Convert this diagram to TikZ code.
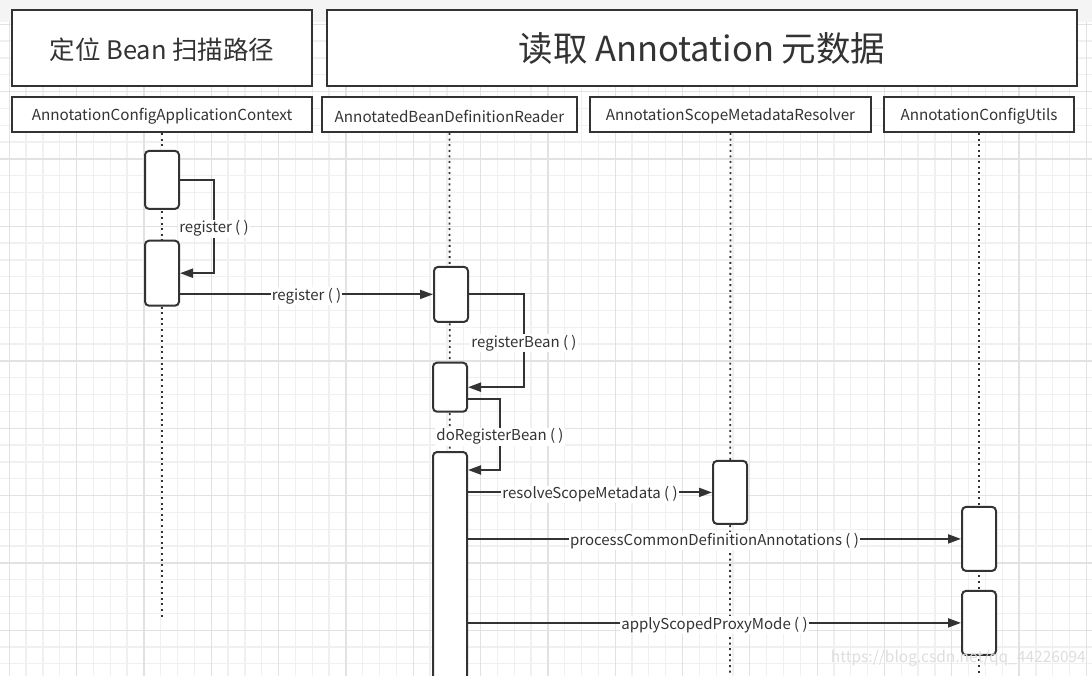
\documentclass[tikz,border=0pt]{standalone}
\usepackage{fontspec}
\setmainfont{Noto Sans CJK SC}
\usepackage{tikz}
\usetikzlibrary{arrows.meta}
\usetikzlibrary{backgrounds}

\definecolor{ink}{HTML}{333333}
\definecolor{gridminor}{HTML}{F0F0F0}
\definecolor{gridmajor}{HTML}{E2E2E2}
\definecolor{band}{HTML}{F4F4F4}

\newcommand{\lowered}[1]{\raisebox{-2pt}[\height][\depth]{#1}}

\tikzset{
	titlebox/.style={draw=ink, line width=2pt, fill=white, minimum height=76pt, text=ink, font=\fontsize{25.5}{30}\selectfont},
	headbox/.style={draw=ink, line width=2pt, fill=white, minimum height=35pt, text=ink, font=\fontsize{15.2}{17}\selectfont},
	actbox/.style={draw=ink, line width=2pt, fill=white, rounded corners=4pt, minimum width=34pt},
	lifeline/.style={draw=ink, line width=1.8pt, dash pattern=on 2pt off 3.6pt},
	msg/.style={draw=ink, line width=2pt, -{Triangle[length=13pt,width=9pt]}},
	lbl/.style={fill=white, text=ink, inner sep=1pt, yshift=-2pt, font=\fontsize{15}{17}\selectfont}
}

\begin{document}
\begin{tikzpicture}[x=1pt, y=-1pt]
	\clip (0,0) rectangle (1092,676);
	\fill[white] (0,0) rectangle (1092,676);
	\fill[band] (0,0) rectangle (1092,22);

	% grid
	\foreach \i in {0,...,64}
		\draw[gridminor, line width=1.3pt] ({9.3+16.83*\i},22) -- ({9.3+16.83*\i},676);
	\foreach \j in {0,...,38}
		\draw[gridminor, line width=1.3pt] (0,{24.3+16.83*\j}) -- (1092,{24.3+16.83*\j});
	\foreach \i in {0,...,16}
		\draw[gridmajor, line width=1.3pt] ({9.3+67.32*\i},22) -- ({9.3+67.32*\i},676);
	\foreach \j in {0,...,9}
		\draw[gridmajor, line width=1.3pt] (0,{24.3+67.32*\j}) -- (1092,{24.3+67.32*\j});

	% stages
	\node[titlebox, minimum width=300pt] (tScan) at (162,48) {\lowered{定位 Bean 扫描路径}};
	\node[titlebox, minimum width=750pt, font=\fontsize{34.5}{40}\selectfont] (tRead) at (702,48) {读取 Annotation 元数据};

	% participants
	\node[headbox, minimum width=300pt] (hCtx) at (162,114.5) {\lowered{AnnotationConfigApplicationContext}};
	\node[headbox, minimum width=255pt] (hReader) at (449.5,114.5) {\lowered{AnnotatedBeanDefinitionReader}};
	\node[headbox, minimum width=281pt] (hResolver) at (730.5,114.5) {\lowered{AnnotationScopeMetadataResolver}};
	\node[headbox, minimum width=190pt] (hUtils) at (979,114.5) {\lowered{AnnotationConfigUtils}};

	\coordinate (endCtx) at (162,617);
	\coordinate (endReader) at (450,680);
	\coordinate (endResolver) at (730,680);
	\coordinate (endUtils) at (979,680);

	\draw[lifeline] (hCtx.south) -- (endCtx);
	\draw[lifeline] (hReader.south) -- (endReader);
	\draw[lifeline] (hResolver.south) -- (endResolver);
	\draw[lifeline] (hUtils.south) -- (endUtils);

	% activations
	\begin{scope}[every node/.style={actbox}]
		\node[minimum height=58pt] (actA) at (162,179.9) {};
		\node[minimum height=65pt] (actB) at (162,273.2) {};
		\node[minimum height=55pt] (actC) at (451,294.4) {};
		\node[minimum height=49pt] (actD) at (450,387.2) {};
		\node[minimum height=250pt] (actE) at (450,577) {};
		\node[minimum height=63pt] (actF) at (730,492.4) {};
		\node[minimum height=64pt] (actG) at (979,538.9) {};
		\node[minimum height=64pt] (actH) at (979,622.9) {};
	\end{scope}

	% calls
	\draw[msg] (actA.east) -- ++(34,0) |- node[pos=0.25, lbl]{register ( )} (actB.east);
	\draw[msg] (actB.east |- actC.west) -- node[lbl]{register ( )} (actC.west);
	\draw[msg] (actC.east) -- ++(55,0) |- node[pos=0.25, lbl]{registerBean ( )} (actD.east);
	\draw[msg] ([yshift=-12pt]actD.east) -- ++(32,0) |- node[pos=0.25, lbl]{doRegisterBean ( )} (actE.east |- 0,470);
	\draw[msg] (actE.east |- actF.west) -- node[lbl]{resolveScopeMetadata ( )} (actF.west);
	\draw[msg] (actE.east |- actG.west) -- node[lbl]{processCommonDefinitionAnnotations ( )} (actG.west);
	\draw[msg] (actE.east |- actH.west) -- node[lbl]{applyScopedProxyMode ( )} (actH.west);

	\node[text=black!13, anchor=east, inner sep=0pt, font=\fontsize{15.5}{18}\selectfont] (mark) at (1086,658) {https://blog.csdn.net/qq\_44226094};
\end{tikzpicture}
\end{document}
